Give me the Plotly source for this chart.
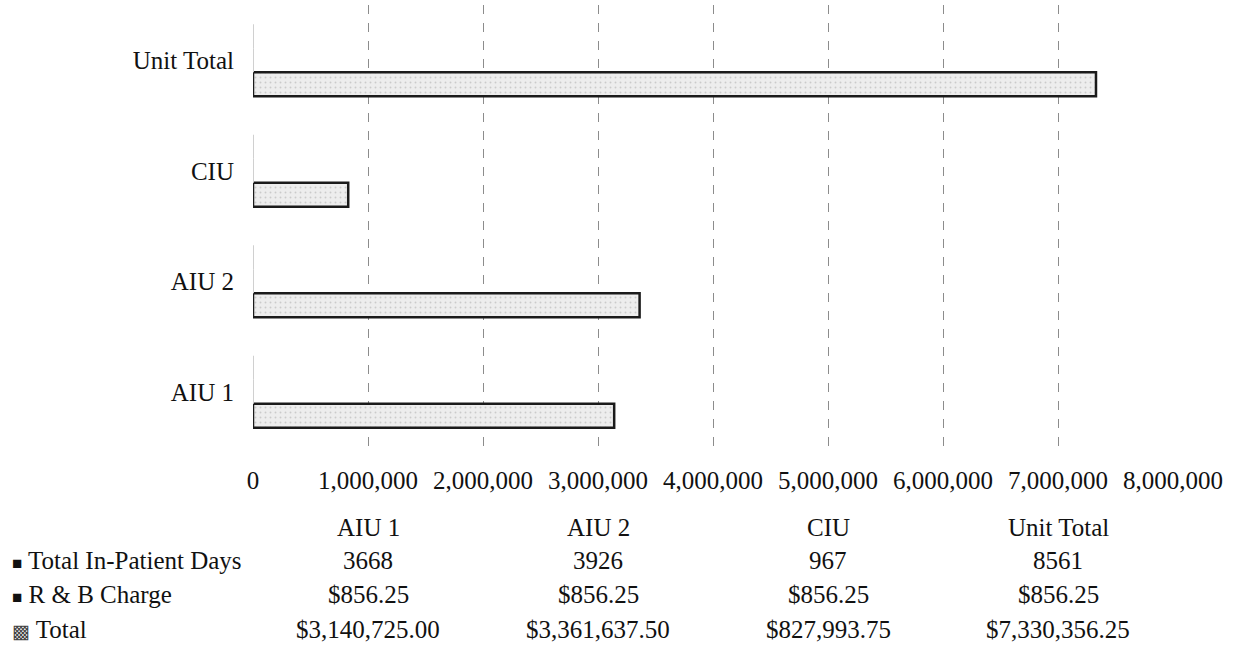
import plotly.graph_objects as go

# ---- data ----
categories = ["AIU 1", "AIU 2", "CIU", "Unit Total"]
series_names = ["Total In-Patient Days", "R & B Charge", "Total"]
inpatient_days = [3668, 3926, 967, 8561]
rb_charge = [856.25, 856.25, 856.25, 856.25]
total = [3140725.00, 3361637.50, 827993.75, 7330356.25]
x_ticks = [0, 1000000, 2000000, 3000000, 4000000, 5000000, 6000000, 7000000, 8000000]

FONT = "Liberation Serif, Times New Roman, serif"
FS = 25
W, H = 1233, 650
ML, MR, MT, MB = 253, 60, 5, 203
PW, PH = W - ML - MR, H - MT - MB

fig = go.Figure()
# Total first so it sits lowest within each category group
fig.add_trace(go.Bar(
    y=categories, x=total, orientation="h", name=series_names[2],
    marker=dict(color="#ebebeb", line=dict(color="#1a1a1a", width=2.5),
                pattern=dict(shape=".", fgcolor="#a8a8a8", bgcolor="#ededed",
                             size=5, solidity=0.12)),
    hoverinfo="x+y",
))
# the two small-valued series are practically invisible at this scale
fig.add_trace(go.Bar(y=categories, x=rb_charge, orientation="h",
                     name=series_names[1],
                     marker=dict(color="#d0d0d0", line=dict(width=0))))
fig.add_trace(go.Bar(y=categories, x=inpatient_days, orientation="h",
                     name=series_names[0],
                     marker=dict(color="#d0d0d0", line=dict(width=0))))

fig.update_layout(
    width=W, height=H,
    margin=dict(l=ML, r=MR, t=MT, b=MB, pad=0),
    paper_bgcolor="white", plot_bgcolor="white",
    barmode="group", bargap=0.35, bargroupgap=0,
    showlegend=False,
    font=dict(family=FONT, size=FS, color="#111"),
)
fig.update_xaxes(
    range=[0, 8000000], tickvals=x_ticks, tickformat=",d",
    showgrid=True, gridcolor="#8c8c8c", gridwidth=1, griddash="dash",
    zeroline=False, showline=False, ticks="", ticklabelstandoff=16,
    tickfont=dict(family=FONT, size=FS, color="#111"),
)
fig.update_yaxes(
    type="category", categoryorder="array", categoryarray=categories,
    showgrid=False, zeroline=False, showline=False, ticks="",
    ticklabelstandoff=18,
    tickfont=dict(family=FONT, size=FS, color="#111"),
)

# ---- data table below the chart ----
def py(ypx):
    return (MT + PH - ypx) / PH

def px(xpx):
    return (xpx - ML) / PW

col_x = [1000000 * (2 * i + 1) for i in range(len(categories))]
row_y = [py(560), py(594), py(630)]
header_y = py(527)

ann = []
for cx, cat in zip(col_x, categories):
    ann.append(dict(x=cx, xref="x", y=header_y, yref="paper", text=cat,
                    showarrow=False, xanchor="center", yanchor="middle",
                    font=dict(family=FONT, size=FS, color="#111")))

rows = [
    [str(v) for v in inpatient_days],
    ["${:,.2f}".format(v) for v in rb_charge],
    ["${:,.2f}".format(v) for v in total],
]
keys = [
    "<span style='font-size:17px;color:#111'>■</span>",
    "<span style='font-size:17px;color:#111'>■</span>",
    "<span style='font-size:19px;color:#444'>▩</span>",
]
for vals, name, key, yy in zip(rows, series_names, keys, row_y):
    ann.append(dict(x=px(10), xref="paper", y=yy, yref="paper",
                    text=key + " " + name, showarrow=False,
                    xanchor="left", yanchor="middle",
                    font=dict(family=FONT, size=FS, color="#111")))
    for cx, v in zip(col_x, vals):
        ann.append(dict(x=cx, xref="x", y=yy, yref="paper", text=v,
                        showarrow=False, xanchor="center", yanchor="middle",
                        font=dict(family=FONT, size=FS, color="#111")))
fig.update_layout(annotations=ann)

fig.write_html("out.html", config={"displayModeBar": False},
               post_script="document.body.style.margin='0';document.body.style.overflow='hidden';")
